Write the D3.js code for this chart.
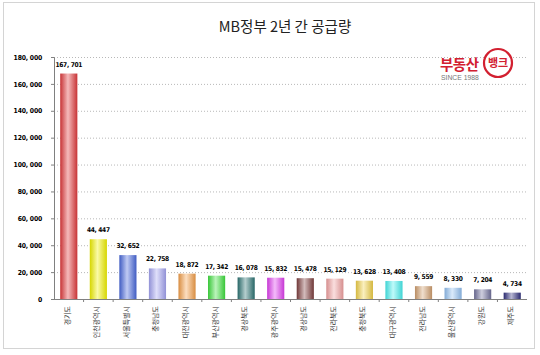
<!DOCTYPE html>
<html><head><meta charset="utf-8">
<script src="https://cdn.jsdelivr.net/npm/d3@7"></script>
<style>body{margin:0;background:#fff;}svg{display:block;font-family:"Noto Sans CJK KR","DejaVu Sans",sans-serif;}</style>
</head><body>
<script>
const categories = ["경기도","인천광역시","서울특별시","충청남도","대전광역시","부산광역시","경상북도","광주광역시","경상남도","전라북도","충청북도","대구광역시","전라남도","울산광역시","강원도","제주도"];
const values = [167701,44447,32652,22758,18872,17342,16078,15832,15478,15129,13628,13408,9559,8330,7204,4734];
const colors = ["#e23a3c","#f2f200","#4868dc","#a4a4f2","#f5a04a","#3ee03e","#2c7474","#e03ef0","#7e3e3e","#f2a2a2","#f0d048","#48f0f0","#d2a070","#94c2f2","#72729e","#30307e"];
const yTicks = [0,20000,40000,60000,80000,100000,120000,140000,160000,180000];
const title = "MB정부 2년 간 공급량";

const W=540,H=355;
const svg=d3.select("body").append("svg").attr("width",W).attr("height",H);
svg.append("rect").attr("x",3.5).attr("y",2.5).attr("width",531).attr("height",346).attr("fill","#fff").attr("stroke","#d4d4d4");

const m={l:54,r:527,t:57,b:299};
const x=d3.scaleBand().domain(categories).range([m.l,m.r]).paddingInner(0.42).paddingOuter(0.21);
const y=d3.scaleLinear().domain([0,180000]).range([m.b,m.t]);

const defs=svg.append("defs");
colors.forEach((c,i)=>{
  const g=defs.append("linearGradient").attr("id","g"+i).attr("x1","0").attr("x2","1").attr("y1","0").attr("y2","0");
  const dark=d3.color(c).darker(0.35), light=d3.interpolateRgb(c,"#fff")(0.65);
  g.append("stop").attr("offset","0%").attr("stop-color",dark);
  g.append("stop").attr("offset","45%").attr("stop-color",light);
  g.append("stop").attr("offset","100%").attr("stop-color",dark);
});

// grid
svg.append("g").selectAll("line").data(yTicks.filter(d=>d>0)).join("line")
  .attr("x1",m.l).attr("x2",m.r).attr("y1",d=>y(d)+0.5).attr("y2",d=>y(d)+0.5)
  .attr("stroke","#b8b8b8").attr("stroke-dasharray","1,2");

const fmt=d=>d3.format(",")(d).replace(",",", ");

// y axis
const ya=svg.append("g").attr("transform",`translate(${m.l},0)`).call(d3.axisLeft(y).tickValues(yTicks).tickSize(3).tickPadding(9).tickFormat(fmt));
ya.select(".domain").attr("stroke","#808080");
ya.selectAll(".tick line").attr("stroke","#808080");
ya.selectAll("text").attr("font-size",6.8).attr("font-weight","bold").attr("fill","#000").attr("font-family","DejaVu Sans Condensed").attr("letter-spacing",-0.2);

// bars
svg.append("g").selectAll("rect").data(values).join("rect")
  .attr("x",(d,i)=>x(categories[i])).attr("width",x.bandwidth())
  .attr("y",d=>y(d)).attr("height",d=>m.b-y(d))
  .attr("fill",(d,i)=>`url(#g${i})`);

// value labels
svg.append("g").selectAll("text").data(values).join("text")
  .attr("x",(d,i)=>x(categories[i])+x.bandwidth()/2).attr("y",d=>y(d)-7)
  .attr("text-anchor","middle").attr("font-size",6.6).attr("font-weight","bold").attr("font-family","DejaVu Sans Condensed").attr("letter-spacing",-0.3)
  .text(fmt);

// x axis
svg.append("line").attr("x1",m.l).attr("x2",m.r).attr("y1",m.b+0.5).attr("y2",m.b+0.5).attr("stroke","#808080");
svg.append("g").selectAll("line").data(categories.slice(1)).join("line")
  .attr("x1",d=>x(d)-x.step()*x.paddingInner()/2).attr("x2",d=>x(d)-x.step()*x.paddingInner()/2)
  .attr("y1",m.b).attr("y2",m.b+3).attr("stroke","#808080");

svg.append("g").selectAll("text").data(categories).join("text")
  .attr("transform",d=>`translate(${x(d)+x.bandwidth()/2-2},${m.b+7}) rotate(-90)`)
  .attr("text-anchor","end")
  .attr("font-size",7).attr("dominant-baseline","central").attr("fill","#333").text(d=>d);

// title
svg.append("text").attr("x",285).attr("y",32).attr("text-anchor","middle").attr("font-size",14.5).attr("fill","#222").text(title);

// logo
const lg=svg.append("g");
lg.append("circle").attr("cx",498).attr("cy",63).attr("r",14).attr("fill","#fff").attr("stroke","#d22030").attr("stroke-width",2.2);
lg.append("text").attr("x",440).attr("y",70).attr("font-size",14.5).attr("font-weight","bold").attr("fill","#d22030").attr("letter-spacing",-0.5).text("부동산");
lg.append("text").attr("x",498).attr("y",67).attr("text-anchor","middle").attr("font-size",11).attr("font-weight","bold").attr("fill","#d22030").text("뱅크");
lg.append("text").attr("x",441).attr("y",80).attr("font-size",6.8).attr("fill","#777").attr("font-family","Liberation Sans").text("SINCE 1988");
</script>
</body></html>
